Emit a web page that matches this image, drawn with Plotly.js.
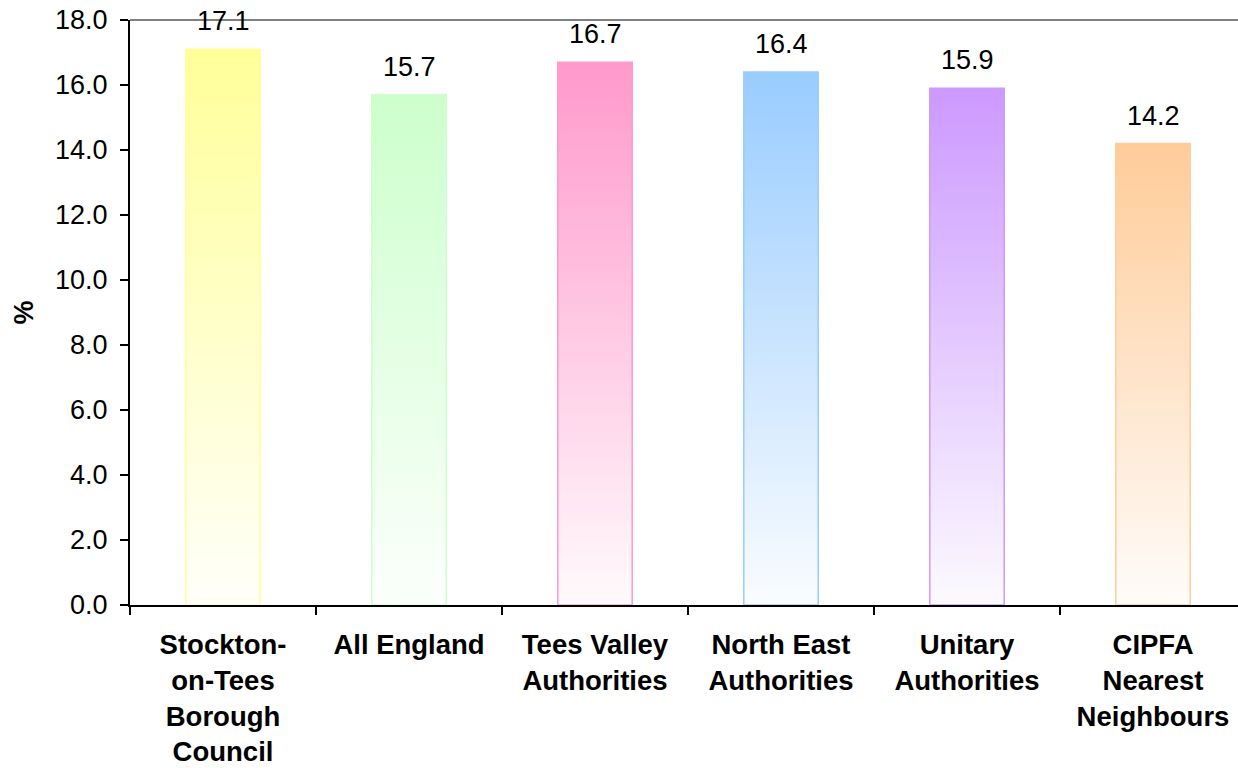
<!DOCTYPE html>
<html>
<head>
<meta charset="utf-8">
<script src="https://cdn.plot.ly/plotly-3.0.1.min.js"></script>
<style>
  html, body { margin: 0; padding: 0; overflow: hidden; background: #fff; }
  #chart { width: 1246px; height: 768px; }
</style>
</head>
<body>
<div id="chart"></div>
<script>
// ---- data ----
const categories = [
  "Stockton-<br>on-Tees<br>Borough<br>Council",
  "All England",
  "Tees Valley<br>Authorities",
  "North East<br>Authorities",
  "Unitary<br>Authorities",
  "CIPFA<br>Nearest<br>Neighbours"
];
const values = [17.1, 15.7, 16.7, 16.4, 15.9, 14.2];
const barColors = ["#FFFF99", "#CCFFCC", "#FF99CC", "#99CCFF", "#CC99FF", "#FFCC99"];
const yTickVals = [0, 2, 4, 6, 8, 10, 12, 14, 16, 18];
const yTitle = "%";

const FONT = "Liberation Sans, Arial, sans-serif";

const trace = {
  type: "bar",
  x: categories,
  y: values,
  width: 0.4,
  marker: {
    color: barColors,
    line: { color: barColors, width: 1.5 }
  },
  hoverinfo: "none"
};

const annotations = categories.map((c, i) => ({
  x: c,
  y: values[i],
  xref: "x",
  yref: "y",
  text: values[i].toFixed(1),
  showarrow: false,
  yanchor: "bottom",
  yshift: 11,
  font: { family: FONT, size: 27, color: "#000" }
}));

const layout = {
  width: 1246,
  height: 768,
  margin: { l: 130, r: 0, t: 20, b: 163 },
  paper_bgcolor: "#fff",
  plot_bgcolor: "#fff",
  showlegend: false,
  font: { family: FONT, size: 27, color: "#000" },
  xaxis: {
    type: "category",
    showline: true,
    linecolor: "#000",
    linewidth: 2,
    ticks: "outside",
    tickson: "boundaries",
    ticklen: 8,
    tickwidth: 2,
    tickcolor: "#000",
    ticklabelstandoff: 14,
    tickfont: { family: FONT, size: 27.5, color: "#000", weight: "bold" },
    showgrid: false,
    zeroline: false,
    fixedrange: true
  },
  yaxis: {
    range: [0, 18],
    tickvals: yTickVals,
    tickformat: ".1f",
    showline: true,
    linecolor: "#000",
    linewidth: 2,
    ticks: "outside",
    ticklen: 8,
    tickwidth: 2,
    tickcolor: "#000",
    ticklabelstandoff: 7,
    tickfont: { family: FONT, size: 27, color: "#000" },
    showgrid: false,
    zeroline: false,
    title: { text: yTitle, font: { family: FONT, size: 27, color: "#000", weight: "bold" }, standoff: 14 },
    fixedrange: true
  },
  shapes: [{
    type: "line", xref: "paper", yref: "paper",
    x0: 0, x1: 1, y0: 1, y1: 1,
    line: { color: "#808080", width: 2 }
  }],
  annotations: annotations
};

function lighten(hex, t) {
  const r = parseInt(hex.slice(1, 3), 16), g = parseInt(hex.slice(3, 5), 16), b = parseInt(hex.slice(5, 7), 16);
  const m = v => Math.round(v + (255 - v) * t);
  return "rgb(" + m(r) + "," + m(g) + "," + m(b) + ")";
}

Plotly.newPlot("chart", [trace], layout, { staticPlot: true, displayModeBar: false }).then(gd => {
  const svg = gd.querySelector(".main-svg");
  const NS = "http://www.w3.org/2000/svg";
  let defs = svg.querySelector("defs");
  if (!defs) { defs = document.createElementNS(NS, "defs"); svg.insertBefore(defs, svg.firstChild); }
  barColors.forEach((c, i) => {
    const lg = document.createElementNS(NS, "linearGradient");
    lg.setAttribute("id", "barGrad" + i);
    lg.setAttribute("x1", "0"); lg.setAttribute("y1", "0");
    lg.setAttribute("x2", "0"); lg.setAttribute("y2", "1");
    const s0 = document.createElementNS(NS, "stop");
    s0.setAttribute("offset", "0"); s0.setAttribute("stop-color", c);
    const s1 = document.createElementNS(NS, "stop");
    s1.setAttribute("offset", "1"); s1.setAttribute("stop-color", lighten(c, 0.95));
    lg.appendChild(s0); lg.appendChild(s1);
    defs.appendChild(lg);
  });
  const paths = gd.querySelectorAll(".barlayer .point path");
  paths.forEach((p, i) => { p.style.fill = "url(#barGrad" + i + ")"; });
});
</script>
</body>
</html>
